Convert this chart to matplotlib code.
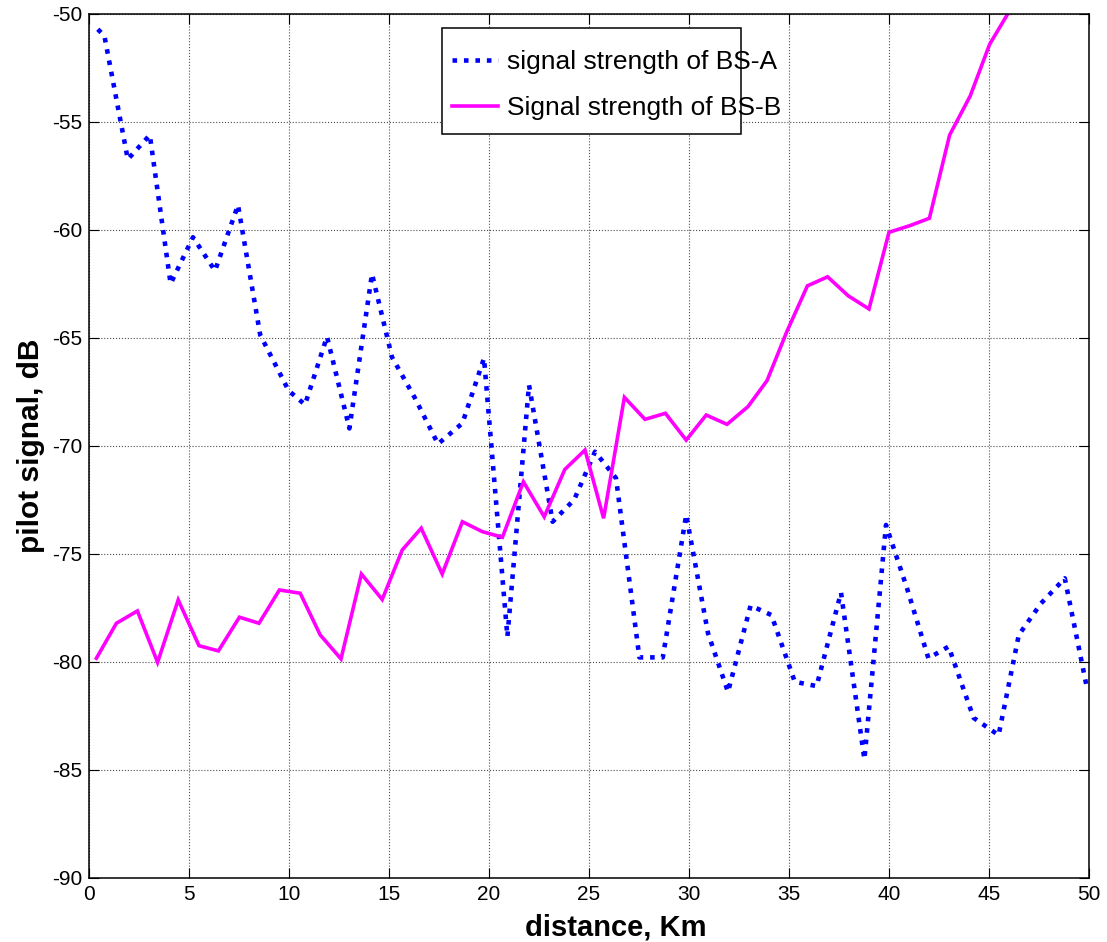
import matplotlib
matplotlib.use("Agg")
import matplotlib.pyplot as plt
from matplotlib.patches import Rectangle

plt.rcParams['font.family'] = ['Liberation Sans', 'DejaVu Sans']
plt.rcParams['axes.unicode_minus'] = False

# Pilot signal of base station A (dB) versus distance (km)
dist_a = [0.44, 0.77, 1.94, 3.04, 4.08, 5.2, 6.3, 7.45, 8.56, 9.98, 10.8, 11.9,
          13.02, 14.15, 15.15, 16.3, 17.45, 18.67, 19.75, 20.92, 22.0, 23.18,
          24.26, 25.3, 26.35, 27.52, 28.69, 29.86, 30.95, 31.95, 33.08, 34.12,
          35.29, 36.38, 37.6, 38.77, 39.85, 40.9, 41.97, 42.98, 44.23, 45.48,
          46.49, 47.6, 48.79, 49.9]
pilot_a = [-50.72, -51.03, -56.74, -55.62, -62.5, -60.35, -61.9, -58.86, -64.87,
           -67.45, -68.1, -64.95, -69.2, -62.05, -65.9, -67.8, -69.92, -68.96,
           -65.95, -78.84, -67.19, -73.52, -72.5, -70.28, -71.5, -79.8, -79.8,
           -73.2, -78.68, -81.4, -77.4, -77.84, -80.93, -81.13, -76.8, -84.52,
           -73.67, -76.6, -79.84, -79.3, -82.6, -83.4, -78.76, -77.3, -76.14,
           -81.23]

# Pilot signal of base station B (dB) versus distance (km)
dist_b = [0.37, 1.37, 2.42, 3.43, 4.46, 5.5, 6.47, 7.52, 8.5, 9.52, 10.56, 11.56,
          12.6, 13.62, 14.66, 15.66, 16.61, 17.66, 18.67, 19.67, 20.67, 21.72,
          22.76, 23.79, 24.8, 25.73, 26.77, 27.8, 28.82, 29.86, 30.86, 31.9,
          32.95, 33.9, 34.9, 35.92, 36.93, 37.96, 39.0, 40.0, 41.05, 42.02,
          43.03, 44.06, 45.03, 46.2]
pilot_b = [-79.84, -78.22, -77.65, -80.03, -77.14, -79.26, -79.5, -77.94, -78.22,
           -76.68, -76.83, -78.76, -79.87, -75.94, -77.12, -74.83, -73.82, -75.94,
           -73.52, -73.98, -74.24, -71.67, -73.29, -71.1, -70.2, -73.36, -67.76,
           -68.78, -68.5, -69.74, -68.58, -69.01, -68.19, -66.99, -64.7, -62.6,
           -62.18, -63.06, -63.67, -60.12, -59.81, -59.47, -55.62, -53.81, -51.42,
           -49.6]

labels = ['signal strength of BS-A', 'Signal strength of BS-B']
x_ticks = list(range(0, 51, 5))
y_ticks = list(range(-90, -49, 5))

W, H = 1107, 942
fig = plt.figure(figsize=(W / 100, H / 100), dpi=100)
ax = fig.add_axes([89 / W, 1 - 877.7 / H, 1000 / W, 864 / H])

la, = ax.plot(dist_a, pilot_a, color=(0, 0, 1), linewidth=3.3,
              linestyle=(0, (1.0, 1.5)), dash_capstyle='butt')
lb, = ax.plot(dist_b, pilot_b, color=(1, 0, 1), linewidth=2.6,
              solid_joinstyle='miter')

ax.set_xlim(0, 50)
ax.set_ylim(-90, -50)
ax.set_xticks(x_ticks)
ax.set_yticks(y_ticks)
ax.grid(True, color='0.3', linestyle=':', linewidth=0.8)
ax.tick_params(direction='in', length=7, width=0.8, top=True, right=True,
               labelsize=15, pad=5)
for sp in ax.spines.values():
    sp.set_linewidth(1.1)

ax.set_xlabel('distance, Km', fontsize=21, fontweight='bold')
ax.set_ylabel('pilot signal, dB', fontsize=21.5, fontweight='bold')
ax.xaxis.set_label_coords(0.527, -0.042)
ax.yaxis.set_label_coords(-0.044, 0.5)

# Legend entries without automatic frame; the box is drawn as a separate patch
leg = ax.legend([la, lb], labels, loc='upper left', frameon=False,
                bbox_to_anchor=(452 / W, 1 - 50 / H), bbox_transform=fig.transFigure,
                borderpad=0, borderaxespad=0, fontsize=19, handlelength=1.75,
                handletextpad=0.35, labelspacing=0.85)
leg.set_zorder(6)
box = Rectangle((442 / W, 1 - 134 / H), (741 - 442) / W, (134 - 28) / H,
                transform=fig.transFigure, facecolor='white',
                edgecolor='black', linewidth=1.1, zorder=5, clip_on=False)
ax.add_patch(box)

fig.savefig('out.png', dpi=100)
